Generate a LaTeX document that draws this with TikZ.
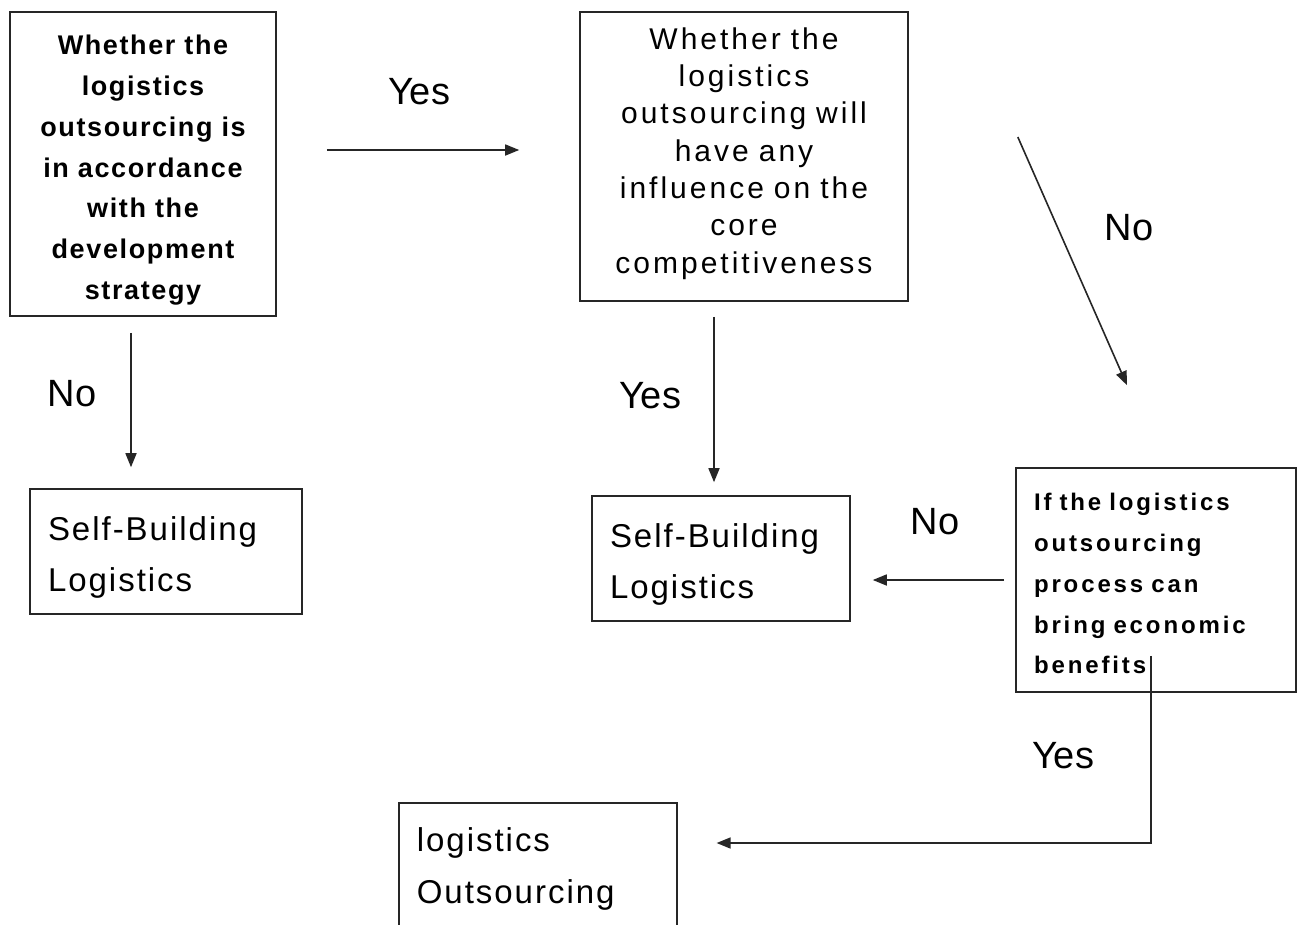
\documentclass[tikz,border=0pt]{standalone}
\usepackage{fontspec}
\setmainfont{Liberation Sans}
\newfontfamily\tightsans[LetterSpace=6]{Liberation Sans}
\newfontfamily\widesans[LetterSpace=10]{Liberation Sans}
\newfontfamily\widersans[LetterSpace=12]{Liberation Sans}
\usetikzlibrary{arrows.meta}
\begin{document}
\begin{tikzpicture}[x=1pt, y=-1pt,
    box/.style={draw=black!85, line width=1.6pt, rectangle, inner xsep=18pt},
    flow/.style={draw=black!85, line width=1.6pt, -{Triangle[length=14pt, width=11pt]}},
    answer/.style={font=\fontsize{38}{40}\selectfont}]
  \useasboundingbox[fill=white] (0,0) rectangle (1304,924);
  % decision boxes
  \node[box, text width=230pt, minimum height=304pt, align=center,
        font=\tightsans\bfseries\fontsize{27}{40.8}\selectfont] (strategy) at (143,164)
    {\rule{0pt}{32pt}Whether the\\logistics\\outsourcing is\\in accordance\\with the\\development\\strategy};
  \node[box, text width=292pt, minimum height=289pt, align=center,
        font=\widesans\fontsize{30}{37.3}\selectfont] (core) at (744,156.5)
    {Whether the\\logistics\\outsourcing will\\have any\\influence on the\\core\\competitiveness\vspace*{6pt}};
  \node[box, text width=244pt, minimum height=224pt, align=left,
        font=\widersans\bfseries\fontsize{24}{40.8}\selectfont] (benefit) at (1156,580)
    {\rule{0pt}{25pt}If the logistics\\outsourcing\\process can\\bring economic\\benefits};
  % result boxes
  \node[box, text width=236pt, minimum height=125pt, align=left,
        font=\tightsans\fontsize{33}{51}\selectfont] (selfleft) at (166,551.5)
    {\rule{0pt}{36pt}Self-Building\\Logistics};
  \node[box, text width=222pt, minimum height=125pt, align=left,
        font=\tightsans\fontsize{33}{51}\selectfont] (selfmid) at (721,558.5)
    {\rule{0pt}{36pt}Self-Building\\Logistics};
  \node[box, text width=242pt, inner ysep=25pt, align=left, anchor=north west,
        font=\tightsans\fontsize{33}{52}\selectfont] (outsource) at (398,802)
    {logistics\\Outsourcing};
  % connectors
  \draw[flow] ([xshift=50pt, yshift=14pt]strategy.east) -- ([xshift=-60pt, yshift=6.5pt]core.west);
  \draw[flow] ([xshift=-12pt, yshift=-16pt]strategy.south) -- ([xshift=-35pt, yshift=21pt]selfleft.north);
  \draw[flow] ([xshift=-30pt, yshift=-15pt]core.south) -- ([xshift=-7pt, yshift=13pt]selfmid.north);
  \draw[flow] ([xshift=109pt, yshift=19.5pt]core.east) -- ([xshift=-29pt, yshift=82pt]benefit.north);
  \draw[flow] ([xshift=-11pt]benefit.west) -- ([xshift=22pt, yshift=-21.5pt]selfmid.east);
  \draw[flow] ([xshift=-5pt, yshift=37pt]benefit.south) |- ([xshift=39pt, yshift=-41pt]outsource.north east);
  % answers
  \node[answer] (yesA) at (419,92) {Yes};
  \node[answer] (noA) at (72,394) {No};
  \node[answer] (yesB) at (650,396) {Yes};
  \node[answer] (noB) at (1129,228) {No};
  \node[answer] (noC) at (935,522) {No};
  \node[answer] (yesC) at (1063,756) {Yes};
\end{tikzpicture}
\end{document}
